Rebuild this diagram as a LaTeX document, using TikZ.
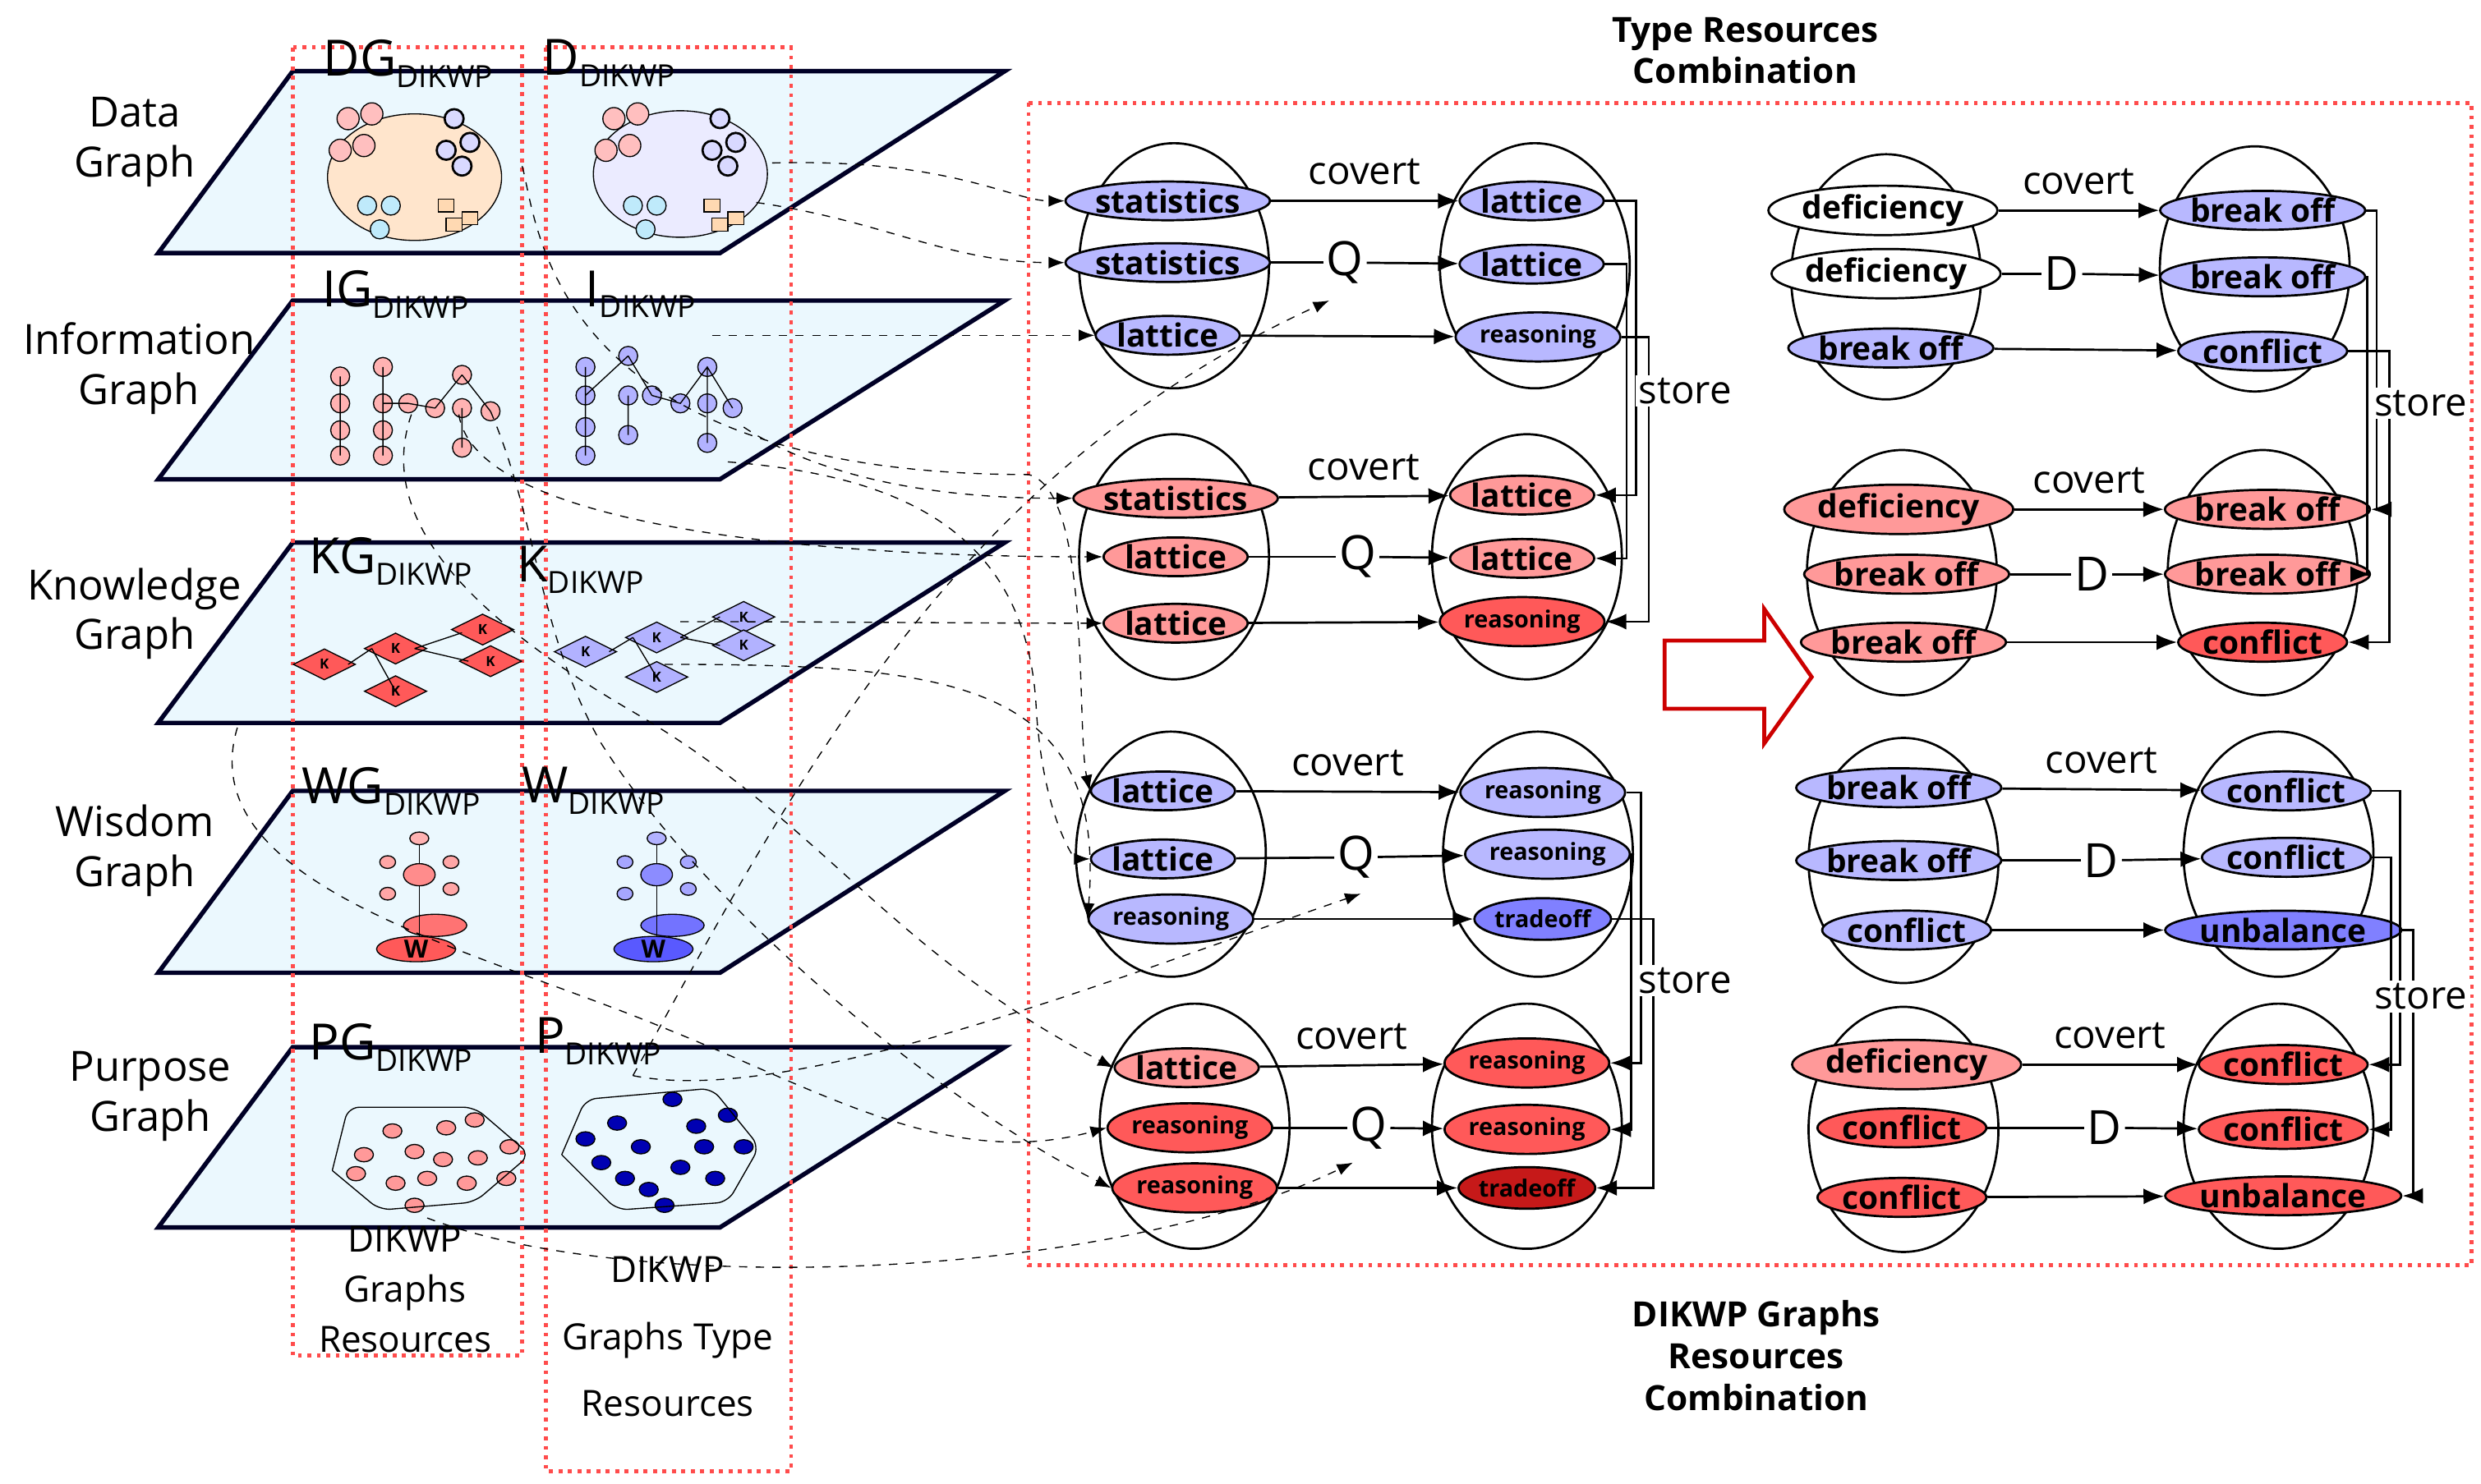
\documentclass[tikz,border=0pt]{standalone}
\usepackage{fontspec}
\setmainfont{Open Sans}
\usetikzlibrary{shapes.geometric,arrows.meta}
\begin{document}
\begin{tikzpicture}[x=0.02cm,y=-0.02cm,
 plane/.style={draw=black!85!blue,line width=1.6pt,fill=cyan!8},
 reddot/.style={draw=red!70,dotted,line width=1.4pt},
 grp/.style={ellipse,draw,thick,minimum width=2.4cm,minimum height=3.1cm},
 it/.style={ellipse,draw,thick,inner xsep=0pt,inner ysep=0.5pt,font=\bfseries\fontsize{11.5}{12}\selectfont},
 sm/.style={it,font=\bfseries\fontsize{8.5}{10}\selectfont,inner ysep=2pt},
 bl/.style={fill=blue!28},
 dbl/.style={fill=blue!50},
 rd/.style={fill=red!40},
 drd/.style={fill=red!65},
 arr/.style={-{Latex[length=2.6mm,width=2mm]},thick},
 dsh/.style={dashed,-{Latex[length=2mm]},thin},
 lab/.style={font=\fontsize{15}{18}\selectfont,align=center},
 ttl/.style={font=\fontsize{14}{16}\selectfont,align=center},
 bt/.style={font=\bfseries\fontsize{12.5}{15}\selectfont,align=center},
 q/.style={font=\fontsize{17}{17}\selectfont,inner sep=1pt}]
\useasboundingbox (0,0) rectangle (1568,938);
% planes
\foreach \t/\b in {45/160,190/303,343/457,500/615,662/776}
  \draw[plane] (185,\t) -- (635,\t) -- (455,\b) -- (100,\b) -- cycle;
% red dotted boxes
\draw[reddot] (185,30) rectangle (330,857);
\draw[reddot] (345,30) rectangle (500,930);
\draw[reddot] (650,65) rectangle (1562,800);
% left labels
\node[lab] (ld) at (85,90) {Data\\Graph};
\node[lab] (li) at (88,233) {Information\\Graph};
\node[lab] (lk) at (85,388) {Knowledge\\Graph};
\node[lab] (lw) at (85,538) {Wisdom\\Graph};
\node[lab] (lp) at (95,693) {Purpose\\Graph};
% plane titles
\foreach \n/\x/\y/\s in {tdg/258/40/DG,td/385/40/D,tig/250/186/IG,ti/405/186/I,tkg/247/355/KG,tk/367/360/K,twg/247/500/WG,tw/375/500/W,tpg/247/662/PG,tp/378/658/P}
  \node[ttl] (\n) at (\x,\y) {\fontsize{18}{18}\selectfont\s\fontsize{11}{11}\selectfont\raisebox{-0.7ex}{DIKWP}};
% data clusters
\draw[fill=orange!20] (262,112) ellipse (55 and 40);
\draw[fill=blue!8] (430,110) ellipse (55 and 40);
\foreach \cx in {0,168}{
 \foreach \dx/\dy in {-30/-25,-15/-28,-35/-5,-20/-8}
   \draw[fill=red!25] (230+\cx+\dx+20,100+\dy) circle (7);
 \foreach \dx/\dy in {25/-25,35/-10,20/-5,30/5}
   \draw[fill=blue!15,thick] (262+\cx+\dx,100+\dy) circle (6);
 \foreach \dx/\dy in {-30/30,-15/30,-22/45}
   \draw[fill=cyan!25] (262+\cx+\dx,100+\dy) circle (6);
 \foreach \dx/\dy in {20/30,25/42,35/38}
   \draw[fill=orange!30] (262+\cx+\dx-5,100+\dy-4) rectangle ++(10,8);
}
% information graphs
\foreach \p in {(215,238),(242,232),(215,255),(242,255),(215,272),(242,272),(215,288),(242,288),(258,255),(275,258),(292,237),(292,258),(310,260),(292,283)}
  \draw[fill=red!30] \p circle (6);
\draw (215,238)--(215,288) (242,232)--(242,288) (242,255)--(258,255)--(275,258) (292,237)--(275,258) (292,237)--(310,260) (292,258)--(292,283);
\foreach \p in {(370,232),(397,225),(370,250),(397,250),(370,270),(370,288),(397,275),(412,250),(430,255),(447,232),(447,255),(463,258),(447,280)}
  \draw[fill=blue!30] \p circle (6);
\draw (370,232)--(370,288) (397,225)--(370,250) (397,225)--(412,250) (397,250)--(397,275) (412,250)--(430,255)--(447,232)--(463,258) (447,232)--(447,280);
% knowledge
\foreach \p in {(205,420),(250,410),(250,437),(305,398),(310,418)}
  \node[diamond,draw,fill=red!65,inner sep=2pt,font=\tiny\bfseries,aspect=2] at \p {K};
\draw (220,420)--(235,410) (262,410)--(292,400) (262,410)--(296,418) (235,410)--(250,437);
\foreach \p in {(370,412),(415,403),(470,390),(470,408),(415,428)}
  \node[diamond,draw,fill=blue!30,inner sep=2pt,font=\tiny\bfseries,aspect=2] at \p {K};
\draw (385,412)--(400,403) (430,403)--(455,390) (430,403)--(455,408) (400,403)--(415,428);
% wisdom
\foreach \cx/\c in {0/red,150/blue}{
 \draw[fill=\c!30] (265+\cx,530) ellipse (6 and 4);
 \draw[fill=\c!45] (265+\cx,553) ellipse (10 and 7);
 \draw[fill=\c!35] (245+\cx,545) ellipse (5 and 4);
 \draw[fill=\c!35] (285+\cx,545) ellipse (5 and 4);
 \draw[fill=\c!35] (245+\cx,565) ellipse (5 and 4);
 \draw[fill=\c!35] (285+\cx,562) ellipse (5 and 4);
 \draw[fill=\c!55] (275+\cx,585) ellipse (20 and 7);
 \draw[fill=\c!65] (263+\cx,600) ellipse (25 and 8);
 \node[font=\bfseries\small] at (263+\cx,600) {W};
 \draw (265+\cx,534)--(265+\cx,546) (265+\cx,560)--(265+\cx,592);
}
% purpose
\foreach \p in {(230,730),(248,715),(262,728),(282,713),(300,708),(302,732),(322,725),(320,745),(295,748),(270,745),(250,748),(262,762),(225,742),(280,733)}
  \draw[fill=red!40] \p ellipse (6 and 4.5);
\draw[rounded corners] (210,740)--(220,700)--(300,700)--(335,730)--(300,760)--(240,765)--(210,740);
\foreach \p in {(370,720),(390,710),(405,725),(425,695),(440,712),(460,705),(470,725),(452,745),(430,738),(410,752),(395,745),(380,735),(420,762),(445,725)}
  \draw[fill=blue!70!black] \p ellipse (6 and 4.5);
\draw[rounded corners] (355,730)--(370,695)--(450,688)--(480,725)--(460,760)--(390,765)--(355,730);
% bottom texts
\node[font=\fontsize{13}{18}\selectfont,align=center] (bl1) at (256,815) {DIKWP\\Graphs\\Resources};
\node[font=\fontsize{13}{24}\selectfont,align=center] (bl2) at (422,845) {DIKWP\\Graphs Type\\Resources};
\node[bt] (tt) at (1103,32) {Type Resources\\Combination};
\node[bt] (tb) at (1110,857) {DIKWP Graphs\\Resources\\Combination};
% big arrow
\draw[red!80!black,line width=1.4pt,fill=white] (1052,405)--(1115,405)--(1115,385)--(1145,428)--(1115,470)--(1115,448)--(1052,448)--cycle;
% group ellipses
\foreach \n/\x/\y in {E1L/742/168,E1R/970/168,E2L/742/352,E2R/965/352,E3L/740/540,E3R/972/540,E4L/755/712,E4R/965/712,E5L/1192/175,E5R/1425/170,E6L/1202/362,E6R/1430/362,E7L/1203/544,E7R/1440/540,E8L/1203/714,E8R/1440/712}
  \node[grp] (\n) at (\x,\y) {};
% group 1
\node[it,bl] (a1) at (738,127) {statistics};
\node[it,bl] (a2) at (738,166) {statistics};
\node[it,bl] (a3) at (738,212) {lattice};
\node[it,bl] (b1) at (968,127) {lattice};
\node[it,bl] (b2) at (968,167) {lattice};
\node[sm,bl] (b3) at (972,213) {reasoning};
% group 2
\node[it,rd] (c1) at (743,315) {statistics};
\node[it,rd] (c2) at (743,352) {lattice};
\node[it,rd] (c3) at (743,394) {lattice};
\node[it,rd] (d1) at (962,313) {lattice};
\node[it,rd] (d2) at (962,353) {lattice};
\node[sm,drd] (d3) at (962,393) {reasoning};
% group 3
\node[it,bl] (e1) at (735,500) {lattice};
\node[it,bl] (e2) at (735,543) {lattice};
\node[sm,bl] (e3) at (740,581) {reasoning};
\node[sm,bl] (f1) at (975,501) {reasoning};
\node[sm,bl] (f2) at (978,540) {reasoning};
\node[sm,dbl] (f3) at (975,581) {tradeoff};
% group 4
\node[it,rd] (g1) at (750,675) {lattice};
\node[sm,drd] (g2) at (752,713) {reasoning};
\node[sm,drd] (g3) at (755,751) {reasoning};
\node[sm,drd] (h1) at (965,672) {reasoning};
\node[sm,drd] (h2) at (965,714) {reasoning};
\node[sm,fill=red!75!black!90] (h3) at (965,751) {tradeoff};
% group 5
\node[it,fill=white] (i1) at (1190,133) {deficiency};
\node[it,fill=white] (i2) at (1192,173) {deficiency};
\node[it,bl] (i3) at (1195,220) {break off};
\node[it,bl] (j1) at (1430,133) {break off};
\node[it,bl] (j2) at (1430,175) {break off};
\node[it,bl] (j3) at (1430,222) {conflict};
% group 6
\node[it,rd] (k1) at (1200,322) {deficiency};
\node[it,rd] (k2) at (1205,363) {break off};
\node[it,rd] (k3) at (1203,406) {break off};
\node[it,rd] (l1) at (1433,322) {break off};
\node[it,rd] (l2) at (1433,363) {break off};
\node[it,drd] (l3) at (1430,406) {conflict};
% group 7
\node[it,bl] (m1) at (1200,498) {break off};
\node[it,bl] (m2) at (1200,544) {break off};
\node[it,bl] (m3) at (1205,588) {conflict};
\node[it,bl] (n1) at (1445,500) {conflict};
\node[it,bl] (n2) at (1445,542) {conflict};
\node[it,dbl] (n3) at (1443,588) {unbalance};
% group 8
\node[it,rd] (o1) at (1205,673) {deficiency};
\node[it,drd] (o2) at (1202,713) {conflict};
\node[it,drd] (o3) at (1202,757) {conflict};
\node[it,drd] (p1) at (1443,673) {conflict};
\node[it,drd] (p2) at (1443,714) {conflict};
\node[it,drd] (p3) at (1443,756) {unbalance};
% middle symbols
\node[q] (q1) at (850,166) {Q};
\node[q] (q2) at (858,352) {Q};
\node[q] (q3) at (857,542) {Q};
\node[q] (q4) at (865,713) {Q};
\node[q] (q5) at (1303,173) {D};
\node[q] (q6) at (1322,363) {D};
\node[q] (q7) at (1328,544) {D};
\node[q] (q8) at (1330,713) {D};
% connectors within rows
\foreach \L/\R/\Q in {a/b/q1,c/d/q2,e/f/q3,g/h/q4,i/j/q5,k/l/q6,m/n/q7,o/p/q8}{
  \draw[arr] (\L1) -- node[above=2pt,font=\fontsize{14}{14}\selectfont]{covert} (\R1);
  \draw[thick] (\L2) -- (\Q);
  \draw[arr] (\Q) -- (\R2);
  \draw[arr] (\L3) -- (\R3);
}
% store connectors
\foreach \A/\B/\x in {b/d/1022,f/h/1025,j/l/1490,n/p/1505}{
  \draw[arr] (\A1.east) -| (\x+12,0|-\B1.east) |- (\B1.east);
  \draw[arr] (\A2.east) -| (\x+6,0|-\B2.east) |- (\B2.east);
  \draw[arr] (\A3.east) -| (\x+20,0|-\B3.east) |- (\B3.east);
}
\node[font=\fontsize{14}{14}\selectfont,fill=white,inner sep=1pt] (s1) at (1065,247) {store};
\node[font=\fontsize{14}{14}\selectfont,fill=white,inner sep=1pt] (s2) at (1065,620) {store};
\node[font=\fontsize{14}{14}\selectfont,fill=white,inner sep=1pt] (s3) at (1530,255) {store};
\node[font=\fontsize{14}{14}\selectfont,fill=white,inner sep=1pt] (s4) at (1530,630) {store};
% dashed links
\coordinate (d1) at (488,103);
\coordinate (d2) at (478,128);
\coordinate (d3) at (450,212);
\coordinate (d4) at (470,270);
\coordinate (d5) at (460,292);
\coordinate (d6) at (290,262);
\coordinate (d7) at (430,393);
\coordinate (d8) at (420,420);
\coordinate (d9) at (330,105);
\coordinate (d10) at (260,262);
\coordinate (d11) at (400,680);
\coordinate (d12) at (270,770);
\coordinate (d13) at (310,260);
\coordinate (d14) at (150,460);
\draw[dsh] (d1) .. controls (600,100) and (640,127) .. (a1.west);
\draw[dsh] (d2) .. controls (560,140) and (600,166) .. (a2.west);
\draw[dsh] (d3) -- (a3.west);
\draw[dsh] (d4) .. controls (500,290) and (560,315) .. (c1.west);
\draw[dsh] (d6) .. controls (300,330) and (500,352) .. (c2.west);
\draw[dsh] (d7) .. controls (520,393) and (620,394) .. (c3.west);
\draw[dsh] (d9) .. controls (340,140) and (345,300) .. (650,300) .. controls (690,310) and (680,460) .. (e1.west);
\draw[dsh] (d5) .. controls (560,300) and (650,330) .. (655,450) .. controls (660,520) and (680,543) .. (e2.west);
\draw[dsh] (d8) .. controls (600,420) and (700,430) .. (e3.west);
\draw[dsh] (d10) .. controls (240,320) and (280,380) .. (400,450) .. controls (520,520) and (560,600) .. (g1.west);
\draw[dsh] (d13) .. controls (340,330) and (340,400) .. (380,470) .. controls (450,580) and (600,700) .. (g3.west);
\draw[dsh] (d14) .. controls (120,560) and (300,600) .. (420,650) .. controls (520,690) and (600,740) .. (g2.west);
\draw[dsh] (d11) .. controls (500,500) and (600,300) .. (840,190);
\draw[dsh] (d11) .. controls (500,700) and (700,620) .. (860,565);
\draw[dsh] (d12) .. controls (400,820) and (700,810) .. (855,735);
\end{tikzpicture}
\end{document}
